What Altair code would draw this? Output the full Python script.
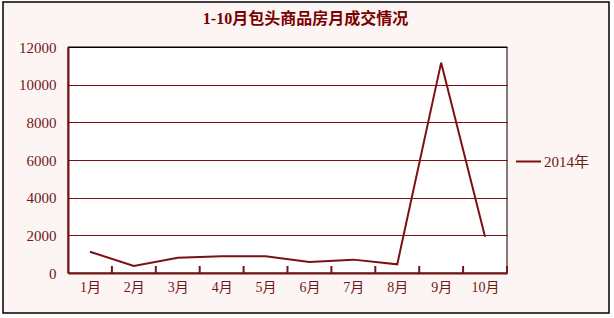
import altair as alt
import pandas as pd

months = ["1月", "2月", "3月", "4月", "5月", "6月", "7月", "8月", "9月", "10月"]
values = [1130, 370, 815, 890, 890, 585, 710, 460, 11170, 1930]
series_name = "2014年"
y_ticks = [0, 2000, 4000, 6000, 8000, 10000, 12000]
title_text = "1-10月包头商品房月成交情况"

df = pd.DataFrame({"month": months, "value": values, "series": [series_name] * len(months)})

W, H = 439, 226
MAROON = "#7b1113"
TEXT = "#6e1a1a"
FONT = "Liberation Serif, Noto Sans CJK SC"

one = alt.Data(values=[{"k": 1}])

frame = alt.Chart(one).mark_rect(fill="#fdf4f4", stroke="#000000", strokeWidth=1.5).encode(
    x=alt.value(-65), x2=alt.value(541), y=alt.value(-45), y2=alt.value(266)
)
plotbg = alt.Chart(one).mark_rect(fill="#ffffff", stroke="#000000", strokeWidth=1).encode(
    x=alt.value(0), x2=alt.value(W), y=alt.value(0), y2=alt.value(H)
)
title = alt.Chart(one).mark_text(
    fontSize=16, fontWeight="bold", color="#7a0000", font=FONT, align="center", baseline="middle"
).encode(x=alt.value(W / 2 + 18), y=alt.value(-28), text=alt.value(title_text))

xenc = alt.X(
    "month:N",
    sort=months,
    scale=alt.Scale(type="point", padding=0.5),
    axis=alt.Axis(
        title=None, labelAngle=0, ticks=False, domainColor=MAROON, domainWidth=2,
        labelColor=TEXT, labelFontSize=14, labelFont=FONT, labelPadding=7, zindex=1,
    ),
)
yenc = alt.Y(
    "value:Q",
    scale=alt.Scale(domain=[0, 12000]),
    axis=alt.Axis(
        title=None, values=y_ticks, format="d", grid=True,
        gridColor={"condition": {"test": "datum.value === 12000", "value": "#000000"}, "value": MAROON},
        gridWidth=1, domainColor=MAROON, domainWidth=2, ticks=False,
        labelColor=TEXT, labelFontSize=15, labelFont=FONT, labelPadding=12, zindex=1,
    ),
)

line = alt.Chart(df).mark_line(strokeWidth=2).encode(
    x=xenc,
    y=yenc,
    color=alt.Color(
        "series:N",
        scale=alt.Scale(range=[MAROON]),
        legend=alt.Legend(
            title=None, orient="none", legendX=447, legendY=101, symbolType="stroke",
            symbolSize=625, symbolStrokeWidth=2, labelFontSize=15, labelFont=FONT,
            labelColor=TEXT, labelOffset=2, padding=0,
        ),
    ),
)

ticks = alt.Chart(df).mark_rule(color=MAROON, strokeWidth=2, xOffset=21.95).encode(
    x=alt.X("month:N", sort=months),
    y=alt.value(H - 7),
    y2=alt.value(H),
)

chart = alt.layer(frame, plotbg, line, ticks, title).properties(
    width=W,
    height=H,
    autosize=alt.AutoSizeParams(type="none"),
    padding={"left": 68, "top": 47, "right": 107, "bottom": 45},
    background="#ffffff",
).configure_view(stroke="transparent")

chart.save("out.html", embed_options={"renderer": "svg", "actions": False})
